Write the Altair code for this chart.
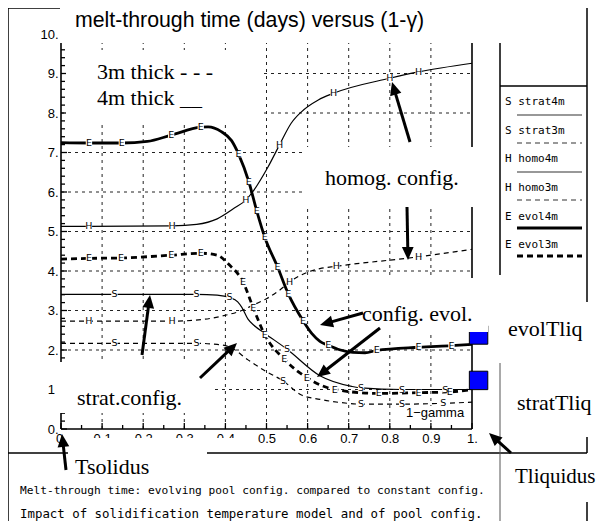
import math
import altair as alt
import pandas as pd

# ---------------- values ----------------
gamma_labels = [0.0, 0.1, 0.2, 0.3, 0.4, 0.5, 0.6, 0.7, 0.8, 0.9, 1.0]
day_labels = [0, 1, 2, 3, 4, 5, 6, 7, 8, 9, 10]
grid_gamma = [0.1, 0.2, 0.3, 0.4, 0.5, 0.6, 0.7, 0.8, 0.9]
grid_days = [1, 2, 3, 4, 5, 6, 7, 8, 9]
x_minor = [i / 20 for i in range(21)]
y_minor = [i / 5 for i in range(51)]

strat4m_x = [0, 0.13, 0.33, 0.38, 0.41, 0.43, 0.44, 0.455, 0.47, 0.496, 0.55, 0.63, 0.707, 0.73, 0.83, 0.935, 1.0]
strat4m_y = [3.41, 3.41, 3.41, 3.39, 3.33, 3.22, 3.08, 2.78, 2.62, 2.42, 2.02, 1.35, 1.08, 1.04, 1.0, 1.0, 1.0]
strat3m_x = [0, 0.13, 0.33, 0.38, 0.41, 0.455, 0.5, 0.54, 0.585, 0.63, 0.68, 0.73, 0.83, 0.93, 1.0]
strat3m_y = [2.17, 2.17, 2.17, 2.14, 2.08, 1.75, 1.45, 1.22, 0.86, 0.75, 0.67, 0.63, 0.63, 0.65, 0.68]
homo4m_x = [0, 0.068, 0.27, 0.33, 0.38, 0.42, 0.45, 0.466, 0.504, 0.532, 0.56, 0.585, 0.626, 0.663, 0.8, 0.87, 1.0]
homo4m_y = [5.13, 5.13, 5.14, 5.18, 5.32, 5.58, 5.8, 6.0, 6.64, 7.2, 7.74, 8.03, 8.33, 8.5, 8.88, 9.04, 9.26]
homo3m_x = [0, 0.068, 0.27, 0.35, 0.40, 0.44, 0.47, 0.5, 0.53, 0.556, 0.6, 0.63, 0.67, 0.87, 1.0]
homo3m_y = [2.73, 2.73, 2.73, 2.78, 2.88, 3.0, 3.15, 3.3, 3.5, 3.72, 3.97, 4.06, 4.12, 4.36, 4.55]
evol4m_x = [0, 0.068, 0.148, 0.21, 0.268, 0.34, 0.358, 0.39, 0.415, 0.432, 0.457, 0.476, 0.496, 0.527,
            0.553, 0.589, 0.61, 0.63, 0.65, 0.68, 0.71, 0.74, 0.768, 0.87, 0.95, 1.0]
evol4m_y = [7.25, 7.24, 7.24, 7.28, 7.44, 7.64, 7.65, 7.53, 7.3, 6.96, 6.26, 5.53, 4.85, 4.1,
            3.42, 2.74, 2.42, 2.22, 2.12, 2.0, 1.94, 1.93, 1.99, 2.07, 2.11, 2.14]
evol3m_x = [0, 0.068, 0.146, 0.268, 0.34, 0.38, 0.41, 0.443, 0.468, 0.496, 0.543, 0.598, 0.666, 0.773, 0.87, 0.946, 1.0]
evol3m_y = [4.3, 4.32, 4.33, 4.4, 4.45, 4.4, 4.15, 3.72, 3.06, 2.38, 1.77, 1.3, 1.0, 0.9, 0.92, 0.94, 1.0]

# marker letters on the curves
strat4m_mx = [0.13, 0.33, 0.41, 0.55, 0.73, 0.83, 0.935]
strat4m_my = [3.41, 3.41, 3.33, 2.02, 1.04, 1.0, 1.0]
strat3m_mx = [0.13, 0.33, 0.54, 0.73, 0.83, 0.93]
strat3m_my = [2.17, 2.17, 1.22, 0.63, 0.63, 0.65]
homo4m_mx = [0.068, 0.27, 0.45, 0.532, 0.663, 0.8, 0.87]
homo4m_my = [5.13, 5.14, 5.8, 7.2, 8.5, 8.88, 9.04]
homo3m_mx = [0.068, 0.27, 0.556, 0.67, 0.87]
homo3m_my = [2.73, 2.73, 3.72, 4.12, 4.36]
evol4m_mx = [0.068, 0.148, 0.268, 0.34, 0.432, 0.457, 0.476, 0.496, 0.527, 0.553, 0.589, 0.65, 0.768, 0.87, 0.95]
evol4m_my = [7.24, 7.24, 7.44, 7.64, 6.96, 6.26, 5.53, 4.85, 4.1, 3.42, 2.74, 2.12, 1.99, 2.07, 2.11]
evol3m_mx = [0.068, 0.146, 0.268, 0.34, 0.443, 0.468, 0.496, 0.543, 0.598, 0.666, 0.773, 0.87, 0.946]
evol3m_my = [4.32, 4.33, 4.4, 4.45, 3.72, 3.06, 2.38, 1.77, 1.3, 1.0, 0.9, 0.92, 0.94]

series_names = ["strat4m", "strat3m", "homo4m", "homo3m", "evol4m", "evol3m"]
series_letters = ["S", "S", "H", "H", "E", "E"]

tliq_names = ["evolTliq", "stratTliq"]
tliq_x = [1.016, 1.016]
tliq_y = [2.38, 1.23]

title_text = "melt-through time (days) versus (1-\u03b3)"
footer_1 = "Melt-through time: evolving pool config. compared to constant config."
footer_2 = "Impact of solidification temperature model and of pool config."

# ---------------- layout (page pixels) ----------------
PX_X0, PX_X1, PX_Y0, PX_Y10 = 61, 472, 429, 34
W = PX_X1 - PX_X0
H = PX_Y0 - PX_Y10


def gx(px):
    return (px - PX_X0) / W


def gy(py):
    return (PX_Y0 - py) / H * 10.0


xs = alt.Scale(domain=[0, 1], nice=False, zero=False)
ys = alt.Scale(domain=[0, 10], nice=False, zero=False)
xaxis = alt.Axis(values=gamma_labels, domain=False, ticks=False, grid=False,
                 labelExpr="datum.value == 0 ? '0.' : (datum.value == 1 ? '1.' : format(datum.value, '.1f'))",
                 labelFont="Liberation Sans", labelFontSize=13, labelColor="black",
                 labelPadding=3, labelFlush=False, labelOverlap=False)
yaxis = alt.Axis(values=day_labels, domain=False, ticks=False, grid=False,
                 labelExpr="datum.value + '.'",
                 labelFont="Liberation Sans", labelFontSize=13, labelColor="black",
                 labelPadding=3, labelFlush=False, labelOverlap=False)


def X(f="x"):
    return alt.X(f + ":Q", scale=xs, axis=xaxis, title=None)


def Y(f="y"):
    return alt.Y(f + ":Q", scale=ys, axis=yaxis, title=None)


def segs(rows):
    return pd.DataFrame([{"x": gx(a), "y": gy(b), "x2": gx(c), "y2": gy(d)} for a, b, c, d in rows])


def rule_layer(df, **kw):
    return alt.Chart(df).mark_rule(**kw).encode(x=X("x"), y=Y("y"), x2="x2:Q", y2="y2:Q")


layers = []

# grid
gdf_v = pd.DataFrame({"x": grid_gamma, "y": [0] * len(grid_gamma), "x2": grid_gamma, "y2": [10] * len(grid_gamma)})
gdf_h = pd.DataFrame({"x": [0] * len(grid_days), "y": grid_days, "x2": [1] * len(grid_days), "y2": grid_days})
layers.append(rule_layer(pd.concat([gdf_v, gdf_h]), color="#222", strokeWidth=1, strokeDash=[3, 4]))

# axis ticks (inward)
tick_rows = []
for v in y_minor:
    L = 6 if abs(v - round(v)) < 1e-9 else 4
    tick_rows.append({"x": 0, "y": v, "x2": gx(PX_X0 + L), "y2": v})
for v in x_minor:
    L = 6 if abs(v * 10 - round(v * 10)) < 1e-9 else 4
    tick_rows.append({"x": v, "y": 0, "x2": v, "y2": gy(PX_Y0 - L)})
layers.append(rule_layer(pd.DataFrame(tick_rows), color="black", strokeWidth=1.3))

# plot frame lines
layers.append(rule_layer(segs([(PX_X0, PX_Y10, PX_X0, PX_Y0), (PX_X0, PX_Y0, PX_X1, PX_Y0),
                               (PX_X1, PX_Y10, PX_X1, PX_Y0)]), color="black", strokeWidth=1.6))

# curves
curves = {
    "strat4m": (strat4m_x, strat4m_y, 1.2, None),
    "strat3m": (strat3m_x, strat3m_y, 1.2, [5, 4]),
    "homo4m": (homo4m_x, homo4m_y, 1.2, None),
    "homo3m": (homo3m_x, homo3m_y, 1.2, [5, 4]),
    "evol4m": (evol4m_x, evol4m_y, 2.8, None),
    "evol3m": (evol3m_x, evol3m_y, 2.8, [6, 4]),
}
for name in series_names:
    cx, cy, sw, dash = curves[name]
    kw = dict(color="black", strokeWidth=sw, interpolate="monotone")
    if dash:
        kw["strokeDash"] = dash
    layers.append(alt.Chart(pd.DataFrame({"x": cx, "y": cy})).mark_line(**kw).encode(x=X(), y=Y()))

# marker letters
marks = {
    "strat4m": (strat4m_mx, strat4m_my), "strat3m": (strat3m_mx, strat3m_my),
    "homo4m": (homo4m_mx, homo4m_my), "homo3m": (homo3m_mx, homo3m_my),
    "evol4m": (evol4m_mx, evol4m_my), "evol3m": (evol3m_mx, evol3m_my),
}
mrows = []
for name, letter in zip(series_names, series_letters):
    mx, my = marks[name]
    for a, b in zip(mx, my):
        mrows.append({"x": a, "y": b, "t": letter})
mdf = pd.DataFrame(mrows)
layers.append(alt.Chart(mdf).mark_point(shape="square", size=40, filled=True, color="white", opacity=1)
              .encode(x=X(), y=Y()))
layers.append(alt.Chart(mdf).mark_text(font="DejaVu Sans", fontSize=9.5, color="black", baseline="middle")
              .encode(x=X(), y=Y(), text="t:N"))

# Tliq squares
layers.append(alt.Chart(pd.DataFrame({"x": tliq_x, "y": tliq_y, "n": tliq_names}))
              .mark_square(size=340, fill="#0000ff", stroke="black", strokeWidth=1, opacity=1, filled=True)
              .encode(x=X(), y=Y()))

# white boxes (text backgrounds)
boxes = [(59, 0, 507, 43), (66, 50, 260, 122), (304, 147, 482, 207), (360, 278, 488, 332),
         (55, 362, 215, 413), (404, 406, 466, 420), (68, 438, 207, 490), (207, 438, 236, 444)]
layers.append(alt.Chart(segs(boxes)).mark_rect(color="white", opacity=1)
              .encode(x=X("x"), y=Y("y"), x2="x2:Q", y2="y2:Q"))

# outer frame lines
frame = [(8, 8, 60, 8), (8, 8, 8, 529), (507, 7, 587, 7), (587, 7, 587, 302), (587, 437, 587, 453),
         (587, 502, 587, 529), (500, 43, 500, 275), (500, 86, 587, 86), (8, 453, 68, 453), (207, 453, 587, 453)]
layers.append(rule_layer(segs(frame), color="black", strokeWidth=1.5))
layers.append(rule_layer(segs([(500, 363, 500, 529)]), color="#555", strokeWidth=1))

# legend (right box)
leg_text_y = [102, 131, 159, 188, 217, 245]
leg_line_y = [115, 143, 172, 200, 228, 256]
ldf = pd.DataFrame({"x": [gx(505)] * 6, "y": [gy(v) for v in leg_text_y],
                    "t": [l + " " + n for l, n in zip(series_letters, series_names)]})
layers.append(alt.Chart(ldf).mark_text(font="DejaVu Sans Mono", fontSize=11, align="left", baseline="middle",
                                       color="black").encode(x=X(), y=Y(), text="t:N"))
for name, ly in zip(series_names, leg_line_y):
    _, _, sw, dash = curves[name]
    kw = dict(color="#333" if sw < 2 else "black", strokeWidth=sw)
    if dash:
        kw["strokeDash"] = dash
    layers.append(rule_layer(segs([(517, ly, 582, ly)]), **kw))


# annotation texts
def text_layer(rows, **kw):
    df = pd.DataFrame([{"x": gx(a), "y": gy(b), "t": t} for a, b, t in rows])
    return alt.Chart(df).mark_text(align="left", baseline="middle", color="black", **kw).encode(
        x=X(), y=Y(), text="t:N")


layers.append(text_layer([(75, 21, title_text)], font="Liberation Sans", fontSize=21.3))
layers.append(text_layer([(97, 72, "3m thick - - -"), (97, 98, "4m thick __"), (325, 178, "homog. config."),
                          (362, 314, "config. evol."), (77, 398, "strat.config."), (508, 329, "evolTliq"),
                          (517, 403, "stratTliq"), (75, 467, "Tsolidus")],
                         font="Liberation Serif", fontSize=22))
layers.append(text_layer([(515, 477, "Tliquidus")], font="Liberation Serif", fontSize=21))
layers.append(text_layer([(406, 413, "1\u2212gamma")], font="Liberation Sans", fontSize=13))
layers.append(text_layer([(20, 491, footer_1)], font="DejaVu Sans Mono", fontSize=11.2))
layers.append(text_layer([(20, 514, footer_2)], font="DejaVu Sans Mono", fontSize=12.4))

# arrows
arrows = [((410, 142), (392, 82)), ((407, 207), (408, 260)), ((363, 313), (320, 325)), ((380, 328), (317, 377)),
          ((142, 355), (150, 295)), ((200, 378), (237, 343)), ((66, 470), (62, 434)), ((511, 453), (489, 433))]
HEAD = "M0,0L0.45,1L-0.45,1Z"
arows = []
for (tx, ty), (hx, hy) in arrows:
    sx, sy = hx - tx, hy - ty
    L = math.hypot(sx, sy)
    ex, ey = hx - sx / L * 9, hy - sy / L * 9
    arows.append((tx, ty, ex, ey))
    ang = math.degrees(math.atan2(sx, -sy)) % 360
    layers.append(alt.Chart(pd.DataFrame({"x": [gx(hx)], "y": [gy(hy)]}))
                  .mark_point(shape=HEAD, size=676, angle=ang, filled=True, color="black", opacity=1, strokeWidth=0)
                  .encode(x=X(), y=Y()))
layers.append(rule_layer(segs(arows), color="black", strokeWidth=3))

chart = alt.layer(*layers).properties(
    width=W, height=H,
    padding={"left": PX_X0 - 8, "top": PX_Y10 - 8, "right": 589 - (PX_X0 - 8) - W, "bottom": 513 - (PX_Y10 - 8) - H},
    autosize=alt.AutoSizeParams(type="none"),
    background="white",
).configure_view(stroke=None)

chart.save("out.html", embed_options={"renderer": "svg", "actions": False})
